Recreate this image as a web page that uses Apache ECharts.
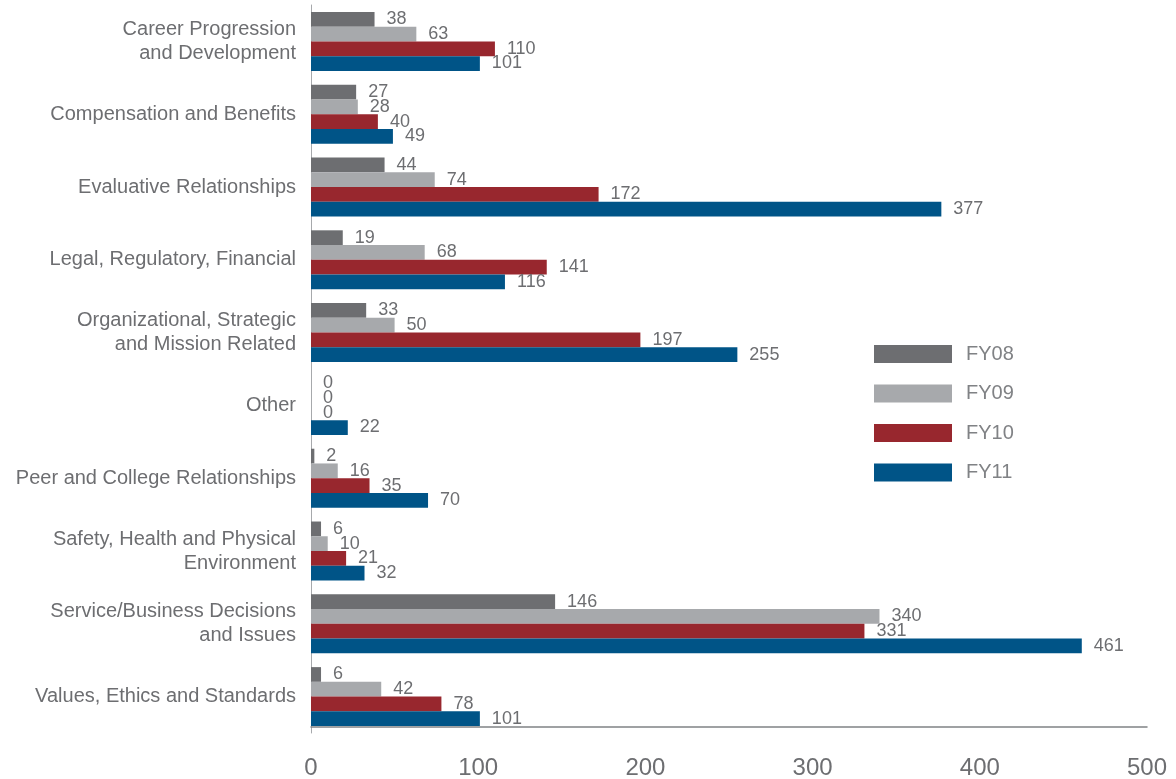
<!DOCTYPE html>
<html><head><meta charset="utf-8">
<script src="https://cdn.jsdelivr.net/npm/echarts@6/dist/echarts.min.js"></script>
<style>html,body{margin:0;padding:0;background:#fff}#c{width:1176px;height:779px}</style>
</head><body><div id="c"></div>
<script>
const categories = [
  "Career Progression\nand Development",
  "Compensation and Benefits",
  "Evaluative Relationships",
  "Legal, Regulatory, Financial",
  "Organizational, Strategic\nand Mission Related",
  "Other",
  "Peer and College Relationships",
  "Safety, Health and Physical\nEnvironment",
  "Service/Business Decisions\nand Issues",
  "Values, Ethics and Standards"
];
const fy08 = [38, 27, 44, 19, 33, 0, 2, 6, 146, 6];
const fy09 = [63, 28, 74, 68, 50, 0, 16, 10, 340, 42];
const fy10 = [110, 40, 172, 141, 197, 0, 35, 21, 331, 78];
const fy11 = [101, 49, 377, 116, 255, 22, 70, 32, 461, 101];
const seriesNames = ["FY08", "FY09", "FY10", "FY11"];
const colors = ["#6d6e71", "#a7a9ac", "#98272e", "#005487"];
const xTicks = [0, 100, 200, 300, 400, 500];

const font = "'Liberation Sans', Arial, sans-serif";
const chart = echarts.init(document.getElementById('c'));
const data = [fy08, fy09, fy10, fy11];
chart.setOption({
  animation: false,
  textStyle: { fontFamily: font },
  grid: { left: 311, right: 29, top: 5, bottom: 46, containLabel: false, outerBoundsMode: 'none' },
  legend: {
    orient: 'vertical', left: 874, top: 344, padding: 0,
    itemWidth: 78, itemHeight: 18, itemGap: 19.5,
    icon: 'rect',
    data: seriesNames,
    textStyle: { fontSize: 20, color: '#808285', padding: [0, 0, 0, 9], fontFamily: font }
  },
  xAxis: {
    type: 'value', min: xTicks[0], max: xTicks[xTicks.length - 1], interval: 100,
    offset: -6,
    axisLine: { show: true, lineStyle: { color: '#808285', width: 1.5 } },
    axisTick: { show: false },
    splitLine: { show: false },
    axisLabel: { fontSize: 24, color: '#6d6e71', margin: 29, fontFamily: font }
  },
  yAxis: {
    type: 'category', data: categories, inverse: true,
    axisLine: { show: true, lineStyle: { color: '#a7a9ac', width: 1 } },
    axisTick: { show: false },
    axisLabel: { fontSize: 20, color: '#6d6e71', margin: 15, lineHeight: 24, align: 'right', fontFamily: font }
  },
  series: data.map((d, i) => ({
    name: seriesNames[i], type: 'bar', data: d,
    barGap: '0%', barCategoryGap: '19%',
    itemStyle: { color: colors[i] },
    label: { show: true, position: 'right', distance: 12, fontSize: 18, color: '#6d6e71', fontFamily: font }
  }))
});
</script></body></html>
